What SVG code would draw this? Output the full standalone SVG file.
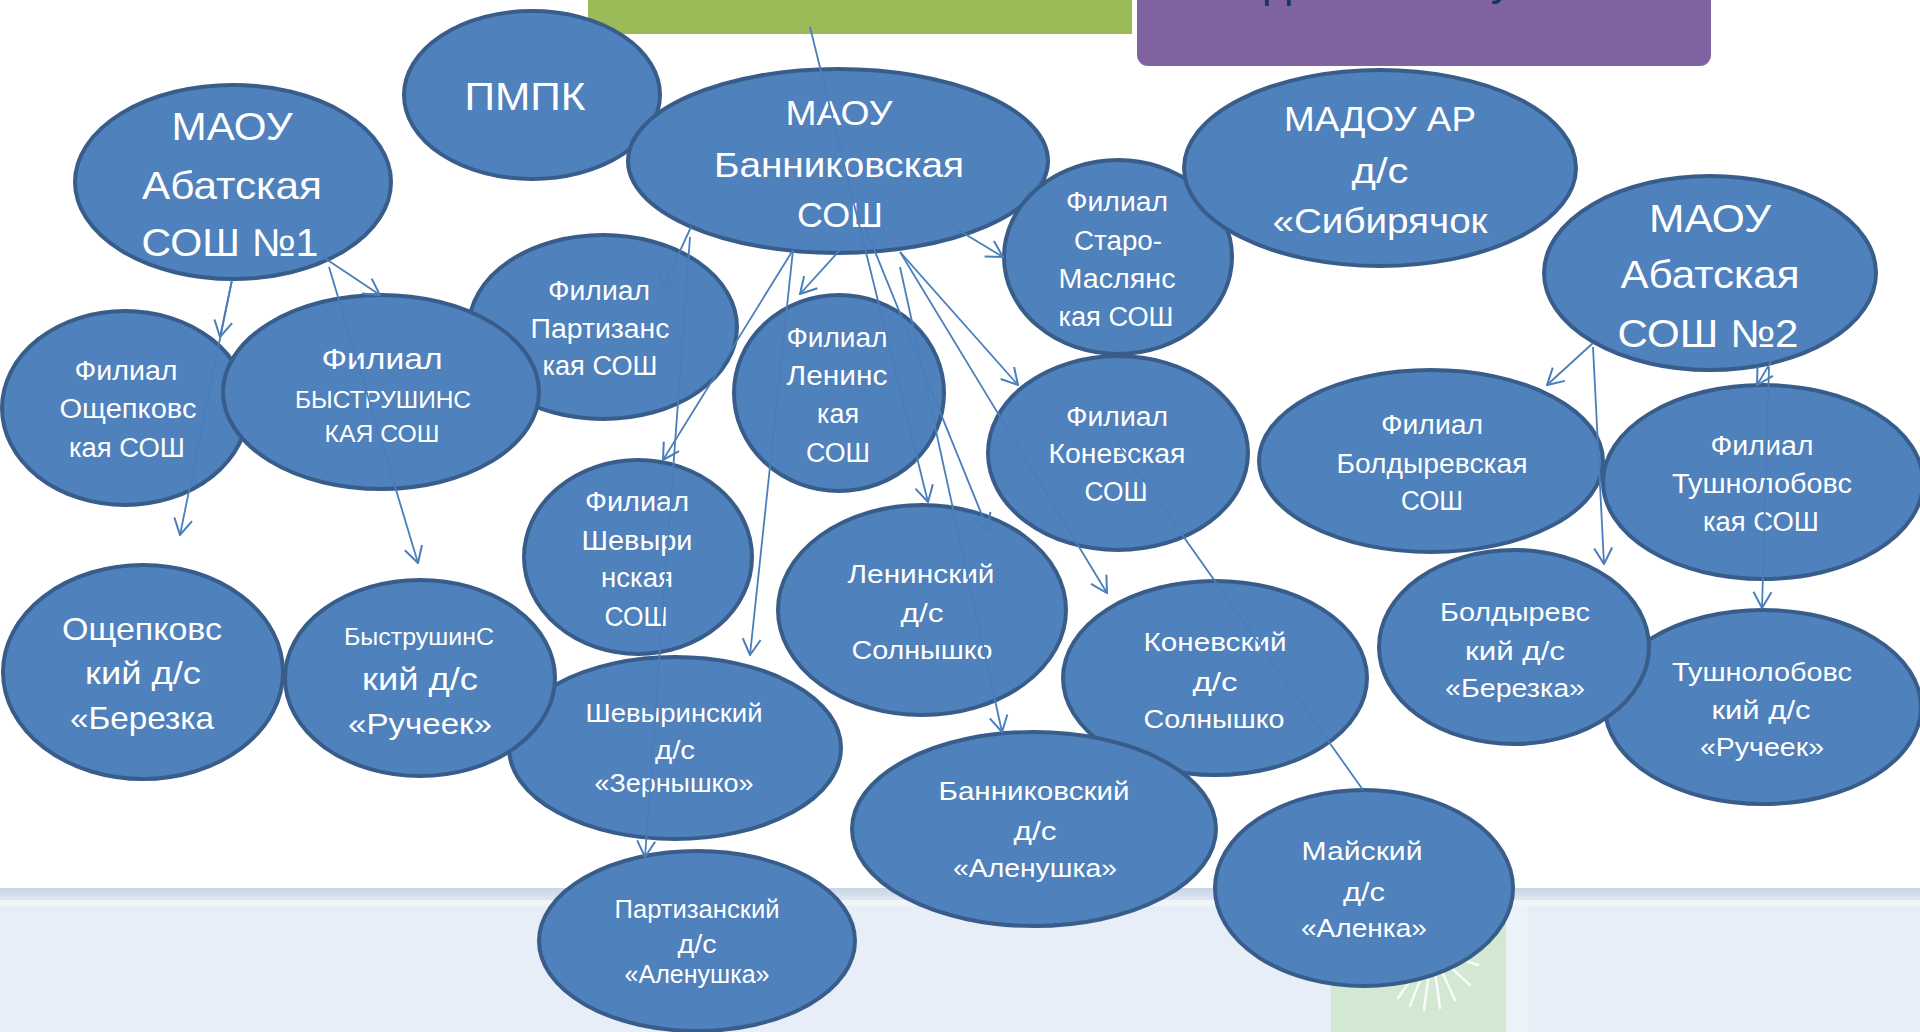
<svg xmlns="http://www.w3.org/2000/svg" width="1920" height="1032" viewBox="0 0 1920 1032">
<defs>
<style>
.n{fill:#4f81bd;stroke:#385d8a;stroke-width:4}
.t{fill:#ffffff;font-family:"Liberation Sans","DejaVu Sans",sans-serif;text-anchor:middle}
.c{stroke:#4a7ebb;stroke-width:1.8;fill:none}
.a{marker-end:url(#arr)}
</style>
<marker id="arr" viewBox="0 0 18 20" refX="17" refY="10" markerWidth="18" markerHeight="20" markerUnits="userSpaceOnUse" orient="auto">
<path d="M1,1 L17,10 L1,19" fill="none" stroke="#4a7ebb" stroke-width="2"/>
</marker>
<linearGradient id="band" x1="0" y1="0" x2="0" y2="1">
<stop offset="0" stop-color="#c8d5e4"/>
<stop offset="1" stop-color="#dfe7f1"/>
</linearGradient>
</defs>

<g id="background">
<rect x="0" y="0" width="1920" height="1032" fill="#ffffff"/>
<rect x="0" y="888" width="1920" height="144" fill="#e7eef7"/>
<rect x="0" y="888" width="1920" height="12" fill="url(#band)"/>
<rect x="0" y="900" width="1920" height="6" fill="#f1f5fa"/>
<rect x="1331" y="906" width="175" height="126" fill="#d3e8d3"/>
<rect x="1506" y="906" width="22" height="126" fill="#edf2f9"/>
<g stroke="#ffffff" stroke-width="2.5" opacity="0.85" stroke-linecap="round">
<line x1="1432" y1="950" x2="1392" y2="985"/>
<line x1="1432" y1="950" x2="1398" y2="998"/>
<line x1="1432" y1="950" x2="1410" y2="1006"/>
<line x1="1432" y1="950" x2="1424" y2="1010"/>
<line x1="1432" y1="950" x2="1440" y2="1008"/>
<line x1="1432" y1="950" x2="1455" y2="1000"/>
<line x1="1432" y1="950" x2="1470" y2="985"/>
<line x1="1432" y1="950" x2="1478" y2="965"/>
</g>
<rect x="588" y="0" width="544" height="34" fill="#9bbb59"/>
<rect x="1137" y="-12" width="574" height="78" rx="11" fill="#8064a2"/>
<text x="1278" y="-4" font-family="Liberation Sans, sans-serif" font-size="46" fill="#17365d" text-anchor="middle">д</text>
<text x="1502" y="-6" font-family="Liberation Sans, sans-serif" font-size="46" fill="#17365d" text-anchor="middle">у</text>
</g>

<g id="nodes">
<g id="pmpk"><ellipse class="n" cx="532" cy="95" rx="128" ry="84"/>
<text class="t" x="525" y="110" font-size="39" textLength="121" lengthAdjust="spacingAndGlyphs">ПМПК</text></g>

<g id="bann"><ellipse class="n" cx="838" cy="161" rx="210" ry="92"/>
<text class="t" x="839" y="125" font-size="35" textLength="107" lengthAdjust="spacingAndGlyphs">МАОУ</text>
<text class="t" x="839" y="177" font-size="35" textLength="250" lengthAdjust="spacingAndGlyphs">Банниковская</text>
<text class="t" x="840" y="227" font-size="35" textLength="86" lengthAdjust="spacingAndGlyphs">СОШ</text></g>

<g id="f_smasl"><ellipse class="n" cx="1118" cy="257" rx="114" ry="97"/>
<text class="t" x="1117" y="211" font-size="27" textLength="102" lengthAdjust="spacingAndGlyphs">Филиал</text>
<text class="t" x="1118" y="250" font-size="27" textLength="88" lengthAdjust="spacingAndGlyphs">Старо-</text>
<text class="t" x="1117" y="288" font-size="27" textLength="117" lengthAdjust="spacingAndGlyphs">Маслянс</text>
<text class="t" x="1116" y="326" font-size="27" textLength="115" lengthAdjust="spacingAndGlyphs">кая СОШ</text></g>

<g id="madou"><ellipse class="n" cx="1380" cy="168" rx="196" ry="98"/>
<text class="t" x="1380" y="131" font-size="35" textLength="192" lengthAdjust="spacingAndGlyphs">МАДОУ АР</text>
<text class="t" x="1380" y="183" font-size="35" textLength="57" lengthAdjust="spacingAndGlyphs">д/с</text>
<text class="t" x="1380" y="233" font-size="35" textLength="215" lengthAdjust="spacingAndGlyphs">«Сибирячок</text></g>

<g id="abat1"><ellipse class="n" cx="233" cy="182" rx="158" ry="97"/>
<text class="t" x="232" y="140" font-size="39" textLength="121" lengthAdjust="spacingAndGlyphs">МАОУ</text>
<text class="t" x="232" y="199" font-size="39" textLength="180" lengthAdjust="spacingAndGlyphs">Абатская</text>
<text class="t" x="230" y="256" font-size="39" textLength="177" lengthAdjust="spacingAndGlyphs">СОШ №1</text></g>

<g id="f_osch"><ellipse class="n" cx="125" cy="408" rx="123" ry="97"/>
<text class="t" x="126" y="380" font-size="27" textLength="103" lengthAdjust="spacingAndGlyphs">Филиал</text>
<text class="t" x="128" y="418" font-size="27" textLength="137" lengthAdjust="spacingAndGlyphs">Ощепковс</text>
<text class="t" x="127" y="457" font-size="27" textLength="116" lengthAdjust="spacingAndGlyphs">кая СОШ</text></g>

<g id="f_part"><ellipse class="n" cx="603" cy="327" rx="134" ry="92"/>
<text class="t" x="599" y="300" font-size="27" textLength="102" lengthAdjust="spacingAndGlyphs">Филиал</text>
<text class="t" x="600" y="338" font-size="27" textLength="139" lengthAdjust="spacingAndGlyphs">Партизанс</text>
<text class="t" x="600" y="375" font-size="27" textLength="115" lengthAdjust="spacingAndGlyphs">кая СОШ</text></g>

<g id="f_byst"><ellipse class="n" cx="381" cy="392" rx="158" ry="97"/>
<text class="t" x="382" y="369" font-size="30" textLength="121" lengthAdjust="spacingAndGlyphs">Филиал</text>
<text class="t" x="383" y="408" font-size="24" textLength="176" lengthAdjust="spacingAndGlyphs">БЫСТРУШИНС</text>
<text class="t" x="382" y="442" font-size="24" textLength="115" lengthAdjust="spacingAndGlyphs">КАЯ СОШ</text></g>

<g id="f_len"><ellipse class="n" cx="839" cy="393" rx="105" ry="98"/>
<text class="t" x="837" y="347" font-size="27" textLength="101" lengthAdjust="spacingAndGlyphs">Филиал</text>
<text class="t" x="837" y="385" font-size="27" textLength="101" lengthAdjust="spacingAndGlyphs">Ленинс</text>
<text class="t" x="838" y="423" font-size="27" textLength="42" lengthAdjust="spacingAndGlyphs">кая</text>
<text class="t" x="838" y="462" font-size="27" textLength="64" lengthAdjust="spacingAndGlyphs">СОШ</text></g>

<g id="f_konev"><ellipse class="n" cx="1118" cy="453" rx="130" ry="97"/>
<text class="t" x="1117" y="426" font-size="27" textLength="102" lengthAdjust="spacingAndGlyphs">Филиал</text>
<text class="t" x="1117" y="463" font-size="27" textLength="137" lengthAdjust="spacingAndGlyphs">Коневская</text>
<text class="t" x="1116" y="501" font-size="27" textLength="63" lengthAdjust="spacingAndGlyphs">СОШ</text></g>

<g id="abat2"><ellipse class="n" cx="1710" cy="273" rx="166" ry="97"/>
<text class="t" x="1710" y="232" font-size="39" textLength="122" lengthAdjust="spacingAndGlyphs">МАОУ</text>
<text class="t" x="1710" y="288" font-size="39" textLength="179" lengthAdjust="spacingAndGlyphs">Абатская</text>
<text class="t" x="1708" y="347" font-size="39" textLength="181" lengthAdjust="spacingAndGlyphs">СОШ №2</text></g>

<g id="f_boldyr"><ellipse class="n" cx="1431" cy="461" rx="172" ry="91"/>
<text class="t" x="1432" y="434" font-size="27" textLength="102" lengthAdjust="spacingAndGlyphs">Филиал</text>
<text class="t" x="1432" y="473" font-size="27" textLength="191" lengthAdjust="spacingAndGlyphs">Болдыревская</text>
<text class="t" x="1432" y="510" font-size="27" textLength="62" lengthAdjust="spacingAndGlyphs">СОШ</text></g>

<g id="f_tushn"><ellipse class="n" cx="1763" cy="482" rx="160" ry="97"/>
<text class="t" x="1762" y="455" font-size="27" textLength="103" lengthAdjust="spacingAndGlyphs">Филиал</text>
<text class="t" x="1762" y="493" font-size="27" textLength="180" lengthAdjust="spacingAndGlyphs">Тушнолобовс</text>
<text class="t" x="1761" y="531" font-size="27" textLength="116" lengthAdjust="spacingAndGlyphs">кая СОШ</text></g>

<g id="f_shev"><ellipse class="n" cx="638" cy="557" rx="114" ry="97"/>
<text class="t" x="637" y="511" font-size="27" textLength="104" lengthAdjust="spacingAndGlyphs">Филиал</text>
<text class="t" x="637" y="550" font-size="27" textLength="111" lengthAdjust="spacingAndGlyphs">Шевыри</text>
<text class="t" x="637" y="587" font-size="27" textLength="72" lengthAdjust="spacingAndGlyphs">нская</text>
<text class="t" x="636" y="626" font-size="27" textLength="63" lengthAdjust="spacingAndGlyphs">СОШ</text></g>

<g id="ds_len"><ellipse class="n" cx="922" cy="610" rx="144" ry="105"/>
<text class="t" x="921" y="583" font-size="26" textLength="147" lengthAdjust="spacingAndGlyphs">Ленинский</text>
<text class="t" x="922" y="622" font-size="26" textLength="43" lengthAdjust="spacingAndGlyphs">д/с</text>
<text class="t" x="922" y="659" font-size="26" textLength="141" lengthAdjust="spacingAndGlyphs">Солнышко</text></g>

<g id="ds_konev"><ellipse class="n" cx="1215" cy="678" rx="152" ry="97"/>
<text class="t" x="1215" y="651" font-size="26" textLength="143" lengthAdjust="spacingAndGlyphs">Коневский</text>
<text class="t" x="1215" y="691" font-size="26" textLength="45" lengthAdjust="spacingAndGlyphs">д/с</text>
<text class="t" x="1214" y="728" font-size="26" textLength="141" lengthAdjust="spacingAndGlyphs">Солнышко</text></g>

<g id="ds_bann"><ellipse class="n" cx="1034" cy="829" rx="182" ry="97"/>
<text class="t" x="1034" y="800" font-size="26" textLength="191" lengthAdjust="spacingAndGlyphs">Банниковский</text>
<text class="t" x="1035" y="840" font-size="26" textLength="43" lengthAdjust="spacingAndGlyphs">д/с</text>
<text class="t" x="1035" y="877" font-size="26" textLength="164" lengthAdjust="spacingAndGlyphs">«Аленушка»</text></g>

<g id="ds_maysk"><ellipse class="n" cx="1364" cy="888" rx="149" ry="98"/>
<text class="t" x="1362" y="860" font-size="26" textLength="121" lengthAdjust="spacingAndGlyphs">Майский</text>
<text class="t" x="1364" y="901" font-size="26" textLength="42" lengthAdjust="spacingAndGlyphs">д/с</text>
<text class="t" x="1364" y="937" font-size="26" textLength="126" lengthAdjust="spacingAndGlyphs">«Аленка»</text></g>

<g id="ds_shev"><ellipse class="n" cx="675" cy="748" rx="166" ry="91"/>
<text class="t" x="674" y="722" font-size="25" textLength="177" lengthAdjust="spacingAndGlyphs">Шевыринский</text>
<text class="t" x="675" y="759" font-size="25" textLength="40" lengthAdjust="spacingAndGlyphs">д/с</text>
<text class="t" x="674" y="792" font-size="25" textLength="159" lengthAdjust="spacingAndGlyphs">«Зернышко»</text></g>

<g id="ds_part"><ellipse class="n" cx="697" cy="941" rx="158" ry="90"/>
<text class="t" x="697" y="918" font-size="25" textLength="165" lengthAdjust="spacingAndGlyphs">Партизанский</text>
<text class="t" x="697" y="953" font-size="25" textLength="39" lengthAdjust="spacingAndGlyphs">д/с</text>
<text class="t" x="697" y="983" font-size="25" textLength="145" lengthAdjust="spacingAndGlyphs">«Аленушка»</text></g>

<g id="ds_osch"><ellipse class="n" cx="143" cy="672" rx="140" ry="107"/>
<text class="t" x="142" y="640" font-size="32" textLength="160" lengthAdjust="spacingAndGlyphs">Ощепковс</text>
<text class="t" x="143" y="684" font-size="32" textLength="116" lengthAdjust="spacingAndGlyphs">кий д/с</text>
<text class="t" x="142" y="729" font-size="32" textLength="144" lengthAdjust="spacingAndGlyphs">«Березка</text></g>

<g id="ds_byst"><ellipse class="n" cx="420" cy="678" rx="135" ry="98"/>
<text class="t" x="419" y="645" font-size="23" textLength="150" lengthAdjust="spacingAndGlyphs">БыструшинС</text>
<text class="t" x="420" y="690" font-size="32" textLength="116" lengthAdjust="spacingAndGlyphs">кий д/с</text>
<text class="t" x="420" y="734" font-size="30" textLength="144" lengthAdjust="spacingAndGlyphs">«Ручеек»</text></g>

<g id="ds_tushn"><ellipse class="n" cx="1763" cy="707" rx="158" ry="97"/>
<text class="t" x="1762" y="681" font-size="26" textLength="180" lengthAdjust="spacingAndGlyphs">Тушнолобовс</text>
<text class="t" x="1761" y="719" font-size="26" textLength="99" lengthAdjust="spacingAndGlyphs">кий д/с</text>
<text class="t" x="1762" y="756" font-size="26" textLength="124" lengthAdjust="spacingAndGlyphs">«Ручеек»</text></g>

<g id="ds_boldyr"><ellipse class="n" cx="1514" cy="647" rx="135" ry="97"/>
<text class="t" x="1515" y="621" font-size="26" textLength="150" lengthAdjust="spacingAndGlyphs">Болдыревс</text>
<text class="t" x="1515" y="660" font-size="26" textLength="100" lengthAdjust="spacingAndGlyphs">кий д/с</text>
<text class="t" x="1515" y="697" font-size="26" textLength="140" lengthAdjust="spacingAndGlyphs">«Березка»</text></g>
</g>

<g id="connectors">
<line class="c a" x1="810" y1="27" x2="928" y2="502"/>
<line class="c a" x1="232" y1="280" x2="220" y2="337"/>
<line class="c a" x1="232" y1="280" x2="180" y2="535"/>
<line class="c a" x1="320" y1="255" x2="380" y2="295"/>
<line class="c a" x1="329" y1="267" x2="418" y2="563"/>
<line class="c a" x1="691" y1="227" x2="662" y2="290"/>
<line class="c a" x1="690" y1="237" x2="645" y2="857"/>
<line class="c a" x1="793" y1="250" x2="663" y2="460"/>
<line class="c a" x1="793" y1="250" x2="750" y2="655"/>
<line class="c a" x1="840" y1="250" x2="800" y2="294"/>
<line class="c a" x1="945" y1="222" x2="1003" y2="257"/>
<line class="c a" x1="900" y1="252" x2="1018" y2="385"/>
<line class="c a" x1="900" y1="252" x2="1107" y2="593"/>
<line class="c a" x1="865" y1="227" x2="988" y2="530"/>
<line class="c a" x1="900" y1="267" x2="1002" y2="732"/>
<line class="c" x1="1115" y1="440" x2="1363" y2="790"/>
<line class="c a" x1="1593" y1="343" x2="1547" y2="385"/>
<line class="c a" x1="1593" y1="347" x2="1604" y2="564"/>
<line class="c a" x1="1772" y1="360" x2="1757" y2="385"/>
<line class="c a" x1="1769" y1="367" x2="1762" y2="608"/>
</g>
</svg>
